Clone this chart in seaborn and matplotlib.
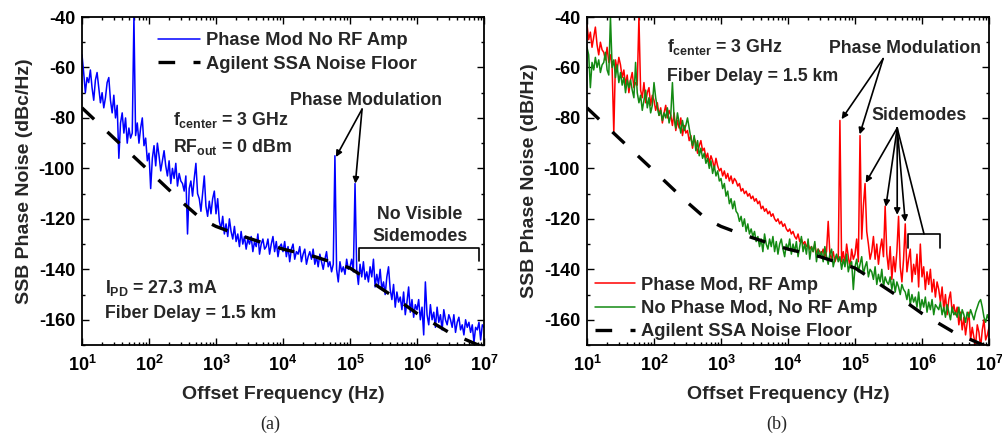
import numpy as np
import pandas as pd
import matplotlib
matplotlib.use("Agg")
import matplotlib.pyplot as plt
from matplotlib.ticker import FuncFormatter, LogLocator, MultipleLocator, NullFormatter
import seaborn as sns

# analyser sweep points, 40 per decade from 10 Hz to 10 MHz
offset_hz = np.logspace(1, 7, 241)

# (a) phase modulation, no RF amp  (dBc/Hz)
blue_db = [
    -55, -62, -70, -64, -66, -61, -68, -73, -65, -62,
    -68, -74, -70, -76, -72, -66, -64, -73, -78, -71,
    -80, -75, -96, -82, -78, -86, -80, -90, -84, -88,
    -86, -40, -87, -82, -90, -84, -80, -91, -88, -97,
    -94, -108, -96, -91, -99, -90, -95, -101, -97, -93,
    -99, -103, -97, -106, -100, -104, -98, -107, -102, -105,
    -106, -109, -103, -126, -108, -105, -111, -104, -98, -110,
    -112, -117, -110, -103, -115, -119, -113, -118, -112, -109,
    -118, -112, -121, -124, -119, -126, -122, -127, -120, -125,
    -128, -123, -129, -126, -131, -125, -130, -127, -132, -128,
    -130, -127, -133, -129, -131, -126, -134, -130, -128, -132,
    -131, -128, -134, -130, -127, -133, -129, -135, -131, -130,
    -133, -129, -135, -131, -137, -132, -130, -136, -133, -134,
    -131, -137, -134, -132, -138, -135, -133, -136, -132, -138,
    -135, -139, -134, -137, -140, -136, -133, -139, -137, -141,
    -138, -95, -140, -145, -137, -141, -139, -142, -136, -140,
    -139, -136, -141, -106, -140, -146, -138, -143, -137, -144,
    -141, -145, -139, -143, -136, -147, -142, -146, -140, -148,
    -145, -150, -143, -139, -148, -152, -146, -155, -149, -153,
    -151, -156, -149, -158, -153, -147, -157, -152, -159, -154,
    -156, -152, -160, -155, -166, -145, -158, -162, -154, -160,
    -157, -163, -155, -161, -158, -164, -156, -160, -162, -158,
    -160, -163, -158, -165, -161, -159, -164, -162, -166, -160,
    -163, -161, -165, -162, -169, -163, -164, -161, -168, -162, -163,
]

# (b) phase mod with RF amp  (dB/Hz)
red_db = [
    -43, -49, -46, -52, -48, -44, -51, -55, -50, -53,
    -54, -57, -52, -58, -55, -60, -86, -57, -61, -56,
    -59, -64, -61, -67, -63, -70, -65, -62, -68, -66,
    -67, -40, -69, -72, -66, -74, -70, -68, -75, -71,
    -73, -77, -74, -79, -76, -82, -78, -75, -80, -77,
    -79, -83, -78, -85, -81, -84, -80, -87, -83, -86,
    -85, -89, -87, -92, -88, -90, -94, -91, -89, -93,
    -92, -96, -94, -98, -95, -97, -100, -96, -99, -101,
    -100, -103, -101, -104, -102, -105, -103, -106, -104, -105,
    -107, -106, -109, -108, -110, -109, -111, -110, -112, -111,
    -113, -112, -114, -113, -116, -115, -117, -116, -118, -117,
    -119, -118, -120, -121, -120, -122, -121, -123, -122, -124,
    -125, -124, -126, -125, -127, -128, -126, -129, -128, -130,
    -129, -131, -130, -132, -131, -133, -130, -134, -132, -133,
    -134, -132, -135, -133, -121, -134, -136, -133, -137, -135,
    -136, -81, -137, -133, -138, -130, -135, -139, -132, -136,
    -134, -128, -137, -87, -128, -115, -106, -125, -130, -136,
    -133, -127, -136, -130, -138, -132, -128, -135, -115, -134,
    -140, -131, -144, -135, -141, -133, -119, -139, -145, -136,
    -122, -141, -136, -132, -145, -138, -142, -134, -147, -130,
    -143, -139, -148, -141, -146, -140, -149, -144, -151, -145,
    -148, -153, -147, -156, -150, -158, -152, -149, -157, -154,
    -158, -155, -162, -157, -164, -159, -166, -161, -157, -168,
    -163, -167, -170, -162, -165, -171, -164, -160, -168, -166, -163,
]

# (b) no phase mod, no RF amp
green_db = [
    -52, -55, -68, -58, -61, -56, -60, -57, -62, -59,
    -58, -54, -61, -63, -40, -60, -57, -64, -59, -66,
    -62, -67, -64, -70, -65, -68, -65, -69, -72, -58,
    -70, -74, -71, -77, -73, -69, -76, -72, -78, -75,
    -66, -72, -76, -79, -77, -81, -78, -80, -76, -82,
    -79, -66, -80, -84, -78, -82, -86, -81, -85, -83,
    -80, -84, -88, -91, -87, -93, -89, -95, -92, -96,
    -94, -98, -96, -100, -97, -102, -99, -103, -101, -105,
    -104, -108, -106, -111, -109, -114, -112, -116, -113, -117,
    -118, -121, -119, -123, -120, -125, -122, -126, -124, -127,
    -125, -129, -127, -131, -128, -133, -126, -130, -132, -128,
    -131, -127, -133, -129, -134, -130, -128, -132, -135, -130,
    -132, -128, -134, -130, -133, -129, -135, -131, -127, -133,
    -130, -134, -128, -136, -131, -133, -129, -137, -132, -135,
    -133, -137, -131, -135, -138, -134, -132, -139, -136, -134,
    -137, -135, -140, -136, -139, -134, -141, -138, -137, -148,
    -139, -136, -141, -138, -135, -142, -139, -137, -143, -140,
    -141, -144, -139, -146, -142, -145, -140, -147, -143, -145,
    -146, -143, -148, -144, -149, -145, -147, -150, -146, -148,
    -149, -152, -148, -154, -150, -153, -151, -155, -149, -156,
    -152, -155, -151, -157, -153, -156, -152, -158, -154, -155,
    -156, -153, -158, -155, -159, -154, -157, -160, -155, -158,
    -157, -159, -155, -160, -156, -158, -161, -157, -159, -156,
    -158, -160, -157, -155, -153, -152, -155, -159, -161, -158, -160,
]

# Agilent SSA noise floor
floor_hz = [10, 30, 100, 300, 600, 1e3, 2e3, 5e3, 1e4, 3e4, 1e5, 1.4e5, 4e5, 1e6, 3e6, 1e7]
floor_db = [-76, -88, -101, -113, -120, -123, -126, -129.5, -132, -135, -139.5, -142, -150, -157.5, -165, -171]

df_a = pd.DataFrame({"hz": offset_hz, "db": blue_db})
df_red = pd.DataFrame({"hz": offset_hz, "db": red_db})
df_green = pd.DataFrame({"hz": offset_hz, "db": green_db})
df_floor = pd.DataFrame({"hz": floor_hz, "db": floor_db})

sns.set_style("ticks")
plt.rcParams["font.family"] = ["Liberation Sans", "DejaVu Sans"]
plt.rcParams["font.weight"] = "bold"
plt.rcParams["axes.labelweight"] = "bold"
plt.rcParams["axes.unicode_minus"] = False
plt.rcParams["mathtext.fontset"] = "custom"
plt.rcParams["mathtext.rm"] = "Liberation Sans:bold"
plt.rcParams["mathtext.it"] = "Liberation Sans:bold"
plt.rcParams["mathtext.bf"] = "Liberation Sans:bold"
plt.rcParams["mathtext.sf"] = "Liberation Sans:bold"

fig = plt.figure(figsize=(10.02, 4.36), dpi=100)
ax1 = fig.add_axes([82 / 1002, 1 - 345 / 436, 402 / 1002, 328 / 436])
ax2 = fig.add_axes([587 / 1002, 1 - 345 / 436, 402 / 1002, 328 / 436])

dash = (0, (5, 5.5))
sns.lineplot(data=df_a, x="hz", y="db", ax=ax1, color="#0000ff", lw=1.1,
             estimator=None, label="Phase Mod No RF Amp")
sns.lineplot(data=df_floor, x="hz", y="db", ax=ax1, color="black", lw=2.4,
             linestyle=dash, estimator=None, label="Agilent SSA Noise Floor")

sns.lineplot(data=df_red, x="hz", y="db", ax=ax2, color="#ff0000", lw=1.1,
             estimator=None, label="Phase Mod, RF Amp")
sns.lineplot(data=df_green, x="hz", y="db", ax=ax2, color="#138a13", lw=1.1,
             estimator=None, label="No Phase Mod, No RF Amp")
sns.lineplot(data=df_floor, x="hz", y="db", ax=ax2, color="black", lw=2.4,
             linestyle=dash, estimator=None, label="Agilent SSA Noise Floor")

fmt = FuncFormatter(lambda v, p: r"$\mathbf{10^{%d}}$" % round(np.log10(v)))
for ax, ylab in [(ax1, "SSB Phase Noise (dBc/Hz)"), (ax2, "SSB Phase Noise (dB/Hz)")]:
    ax.set_xscale("log")
    ax.set_xlim(10, 1e7)
    ax.set_ylim(-170, -40)
    ax.xaxis.set_major_locator(LogLocator(base=10, numticks=10))
    ax.xaxis.set_minor_locator(LogLocator(base=10, subs=np.arange(2, 10), numticks=20))
    ax.xaxis.set_major_formatter(fmt)
    ax.xaxis.set_minor_formatter(NullFormatter())
    ax.yaxis.set_major_locator(MultipleLocator(20))
    ax.yaxis.set_minor_locator(MultipleLocator(10))
    ax.tick_params(which="both", direction="in", top=True, right=True, width=1.0,
                   labelsize=13, colors="black")
    ax.tick_params(which="major", length=5, pad=5)
    ax.tick_params(axis="x", which="major", pad=7)
    ax.tick_params(which="minor", length=2.5)
    for s in ax.spines.values():
        s.set_linewidth(1.3)
        s.set_color("black")
    ax.set_xlabel("Offset Frequency (Hz)", fontsize=14, fontweight="bold", labelpad=8)
    ax.set_ylabel(ylab, fontsize=14, fontweight="bold", labelpad=4)

ax1.legend(loc="upper left", bbox_to_anchor=(0.189, 0.953), frameon=False,
           fontsize=13.2, handlelength=2.3, handletextpad=0.3, labelspacing=0.34,
           borderpad=0, borderaxespad=0)
ax2.legend(loc="upper left", bbox_to_anchor=(0.02, 0.208), frameon=False,
           fontsize=13.2, handlelength=2.2, handletextpad=0.3, labelspacing=0.34,
           borderpad=0, borderaxespad=0)

tk = dict(fontsize=12.8, fontweight="bold", va="baseline", ha="left")
arrow = dict(arrowstyle="-|>", color="black", lw=1.2, mutation_scale=9, shrinkA=0, shrinkB=0)
line = dict(arrowstyle="-", color="black", lw=1.2, shrinkA=0, shrinkB=0)

# panel (a) annotations
ax1.text(10 ** 2.36, -82.8, r"$f_{center}$ = 3 GHz", **tk)
ax1.text(10 ** 2.36, -93.5, r"$RF_{out}$ = 0 dBm", **tk)
ax1.text(10 ** 1.34, -149.3, r"$I_{PD}$ = 27.3 mA", **tk)
ax1.text(10 ** 1.34, -159.2, "Fiber Delay = 1.5 km", **tk)
ax1.text(10 ** 4.10, -74.9, "Phase Modulation", **tk)
ax1.annotate("", xy=(10 ** 4.79, -95.5), xytext=(10 ** 5.18, -76.5), arrowprops=arrow)
ax1.annotate("", xy=(10 ** 5.08, -106), xytext=(10 ** 5.18, -76.5), arrowprops=arrow)
ax1.text(10 ** 6.04, -120, "No Visible", fontsize=12.8, fontweight="bold", va="baseline", ha="center")
ax1.text(10 ** 6.04, -128.7, "Sidemodes", fontsize=12.8, fontweight="bold", va="baseline", ha="center")
ax1.plot([10 ** 5.13, 10 ** 5.13, 10 ** 6.93, 10 ** 6.93], [-136.6, -131.5, -131.5, -136.6],
         color="black", lw=1.2)

# panel (b) annotations
ax2.text(10 ** 2.19, -53.9, r"$f_{center}$ = 3 GHz", **tk)
ax2.text(10 ** 2.19, -65.3, "Fiber Delay = 1.5 km", **tk)
ax2.text(10 ** 4.61, -54.3, "Phase Modulation", **tk)
ax2.annotate("", xy=(10 ** 4.80, -80.5), xytext=(10 ** 5.42, -56.5), arrowprops=arrow)
ax2.annotate("", xy=(10 ** 5.07, -86.5), xytext=(10 ** 5.42, -56.5), arrowprops=arrow)
ax2.text(10 ** 5.25, -80.8, "Sidemodes", **tk)
for hx, hy in [(5.16, -105.7), (5.46, -115.2), (5.63, -118.4), (5.75, -121.2)]:
    ax2.annotate("", xy=(10 ** hx, hy), xytext=(10 ** 5.63, -84), arrowprops=arrow)
ax2.annotate("", xy=(10 ** 6.03, -126), xytext=(10 ** 5.63, -84), arrowprops=line)
ax2.plot([10 ** 5.79, 10 ** 5.79, 10 ** 6.27, 10 ** 6.27], [-131.5, -126, -126, -131.5],
         color="black", lw=1.2)

fig.text(270 / 1002, 1 - 424 / 436, "(a)", family="Liberation Serif", fontweight="normal",
         fontsize=13, ha="center", va="center")
fig.text(777 / 1002, 1 - 424 / 436, "(b)", family="Liberation Serif", fontweight="normal",
         fontsize=13, ha="center", va="center")

fig.savefig("out.png", dpi=100, facecolor="white")
